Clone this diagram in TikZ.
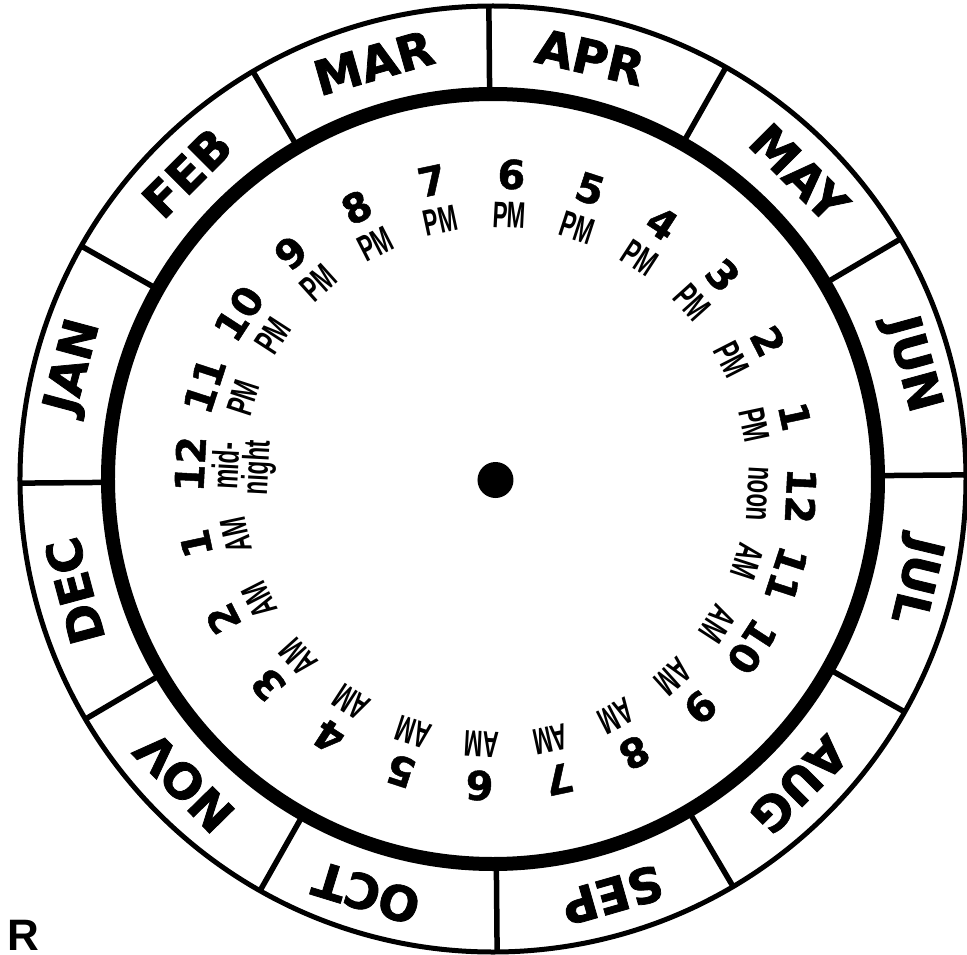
\documentclass[tikz,border=0pt]{standalone}
\usepackage{fontspec}
\setmainfont{DejaVu Sans}
\newfontfamily\dvfont[FakeBold=1.6]{DejaVu Sans Bold}
\newfontfamily\numfont[FakeBold=1.2]{DejaVu Sans Bold}
\newfontfamily\condfont[FakeStretch=0.6]{Liberation Sans Bold}
\newfontfamily\libfont{Liberation Sans Bold}
\tikzset{
  month/.style={font={\dvfont\fontsize{48}{48}\selectfont}, inner sep=0pt},
  hnum/.style={font={\numfont\fontsize{40}{40}\selectfont}, inner sep=0pt},
  hlab/.style={font={\condfont\fontsize{37}{30}\selectfont}, inner sep=0pt, align=center},
  bline/.style={line width=5.5pt},
}
\begin{document}
\begin{tikzpicture}[x=1pt,y=1pt]
\useasboundingbox (-493,-475) rectangle (474,479);
% rings
\draw[line width=5pt] (0,0) circle[radius=473pt];
\draw[line width=14pt] (0,0) circle[radius=385pt];
\foreach \k in {0,...,11}{
  \pgfmathsetmacro\b{30*\k+0.5}
  \draw[bline] (\b:385) -- (\b:473);
}
% months
\foreach \m/\a [count=\i from 0] in {APR/77,MAR/106,FEB/135,JAN/165,DEC/195,NOV/224.5,OCT/253,SEP/286,AUG/315,JUL/346.5,JUN/15.3,MAY/45}{
  \node[month, rotate=\a-90] (m\i) at (\a:433) {\m};
}
% hours
\begin{scope}[shift={(2.5,-1)}]
\foreach \n/\s/\r [count=\i from 0] in {6/PM/265,5/PM/265,4/PM/265,3/PM/265,2/PM/265,1/PM/265,12/noon/262,11/AM/265,10/AM/265,9/AM/265,8/AM/265,7/AM/265,6/AM/265,5/AM/265,4/AM/265,3/AM/265,2/AM/265,1/AM/265,12/{mid-\\night}/252,11/PM/265,10/PM/265,9/PM/265,8/PM/265,7/PM/265}{
  \pgfmathsetmacro\a{87-15*\i}
  \node[hnum, rotate=\a-90] (hn\i) at (\a:306) {\n};
  \node[hlab, rotate=\a-90] (hl\i) at (\a:\r) {\s};
}
\node[circle, fill=black, minimum size=36pt, inner sep=0pt] (dot) at (0,0) {};
\end{scope}
\node[font={\libfont\fontsize{44}{44}\selectfont}, anchor=south west, inner sep=0pt] (R) at (-486,-472) {R};
\end{tikzpicture}
\end{document}
